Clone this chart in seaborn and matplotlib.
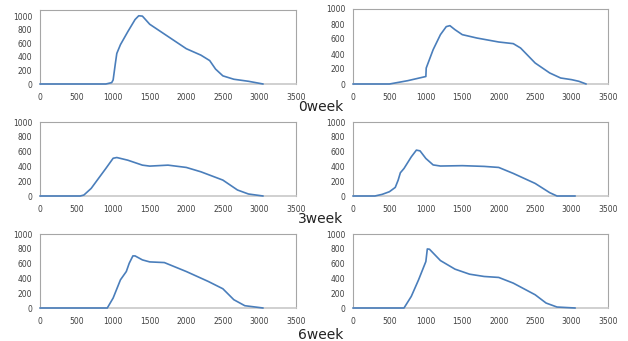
import matplotlib
matplotlib.use("Agg")
import matplotlib.pyplot as plt
import seaborn as sns
import pandas as pd

# ---- data ----
x_0w_a = [0, 500, 900, 980, 1000, 1030, 1050, 1100, 1200, 1300, 1350, 1400, 1500, 1750, 2000, 2200, 2320, 2400, 2500, 2650, 2850, 3050]
y_0w_a = [0, 0, 0, 20, 60, 300, 450, 580, 770, 950, 1005, 1000, 880, 700, 520, 425, 345, 220, 120, 70, 40, 0]

x_0w_b = [0, 500, 750, 1000, 1005, 1100, 1200, 1280, 1330, 1400, 1500, 1700, 2000, 2200, 2300, 2500, 2700, 2850, 3000, 3100, 3200]
y_0w_b = [0, 0, 44, 100, 213, 458, 658, 765, 778, 724, 658, 613, 560, 538, 480, 280, 147, 80, 58, 36, 0]

x_3w_a = [0, 550, 600, 700, 800, 900, 1000, 1050, 1200, 1400, 1500, 1750, 2000, 2200, 2500, 2700, 2850, 3050]
y_3w_a = [0, 0, 13, 103, 238, 372, 510, 520, 484, 417, 404, 417, 386, 327, 215, 81, 27, 0]

x_3w_b = [0, 300, 400, 500, 580, 620, 650, 700, 800, 870, 920, 1000, 1100, 1200, 1500, 1800, 2000, 2200, 2500, 2700, 2800, 3050]
y_3w_b = [0, 0, 22, 58, 116, 215, 314, 372, 529, 620, 610, 507, 420, 405, 410, 400, 386, 305, 170, 45, 0, 0]

x_6w_a = [0, 920, 1000, 1100, 1180, 1220, 1270, 1300, 1400, 1500, 1700, 2000, 2300, 2500, 2650, 2800, 3050]
y_6w_a = [0, 0, 135, 381, 493, 605, 704, 704, 650, 623, 614, 493, 359, 260, 112, 31, 0]

x_6w_b = [0, 550, 700, 800, 900, 1000, 1020, 1050, 1200, 1400, 1600, 1800, 2000, 2200, 2500, 2650, 2800, 3050]
y_6w_b = [0, 0, 0, 157, 381, 628, 798, 794, 641, 525, 457, 426, 413, 336, 179, 67, 13, 0]

row_labels = ["0week", "3week", "6week"]
x_ticks = [0, 500, 1000, 1500, 2000, 2500, 3000, 3500]
y_ticks = [0, 200, 400, 600, 800, 1000]

panels = [
    (x_0w_a, y_0w_a), (x_0w_b, y_0w_b),
    (x_3w_a, y_3w_a), (x_3w_b, y_3w_b),
    (x_6w_a, y_6w_a), (x_6w_b, y_6w_b),
]

sns.set_style("white")
plt.rcParams["font.family"] = ["DejaVu Sans"]

W, H = 628, 341
fig = plt.figure(figsize=(W / 100, H / 100), dpi=100)

# axes boxes in pixel coords (left, top, right, bottom)
boxes = [
    (40, 10, 296, 84), (353, 9, 608, 84),
    (40, 122, 296, 196), (353, 122, 608, 196),
    (40, 234, 296, 308), (353, 234, 608, 308),
]
line_color = "#4a7ebb"
spine_color = "#a6a6a6"

for i, ((xs, ys), (l, t, r, b)) in enumerate(zip(panels, boxes)):
    ax = fig.add_axes([l / W, 1 - b / H, (r - l) / W, (b - t) / H])
    df = pd.DataFrame({"x": xs, "y": ys})
    sns.lineplot(data=df, x="x", y="y", ax=ax, color=line_color, linewidth=1.2,
                 zorder=4, clip_on=False)
    ax.set_xlim(0, 3500)
    ax.set_ylim(0, 1090 if i == 0 else 1000)
    ax.set_xticks(x_ticks)
    ax.set_yticks(y_ticks)
    ax.set_xlabel("")
    ax.set_ylabel("")
    for s in ax.spines.values():
        s.set_color(spine_color)
        s.set_linewidth(0.8)
    ax.spines["bottom"].set_linewidth(1.2)
    ax.spines["bottom"].set_color("#c8c8c8")
    ax.tick_params(axis="both", which="both", direction="out", length=2.5,
                   width=0.6, color=spine_color, labelsize=5.5,
                   labelcolor="#404040", pad=4)
    ax.tick_params(axis="y", pad=3)

for lbl, ypx in zip(row_labels, [107, 219, 335]):
    fig.text(321 / W, 1 - ypx / H, lbl, ha="center", va="center",
             fontsize=10, color="#222222")

fig.savefig("out.png", dpi=100)
